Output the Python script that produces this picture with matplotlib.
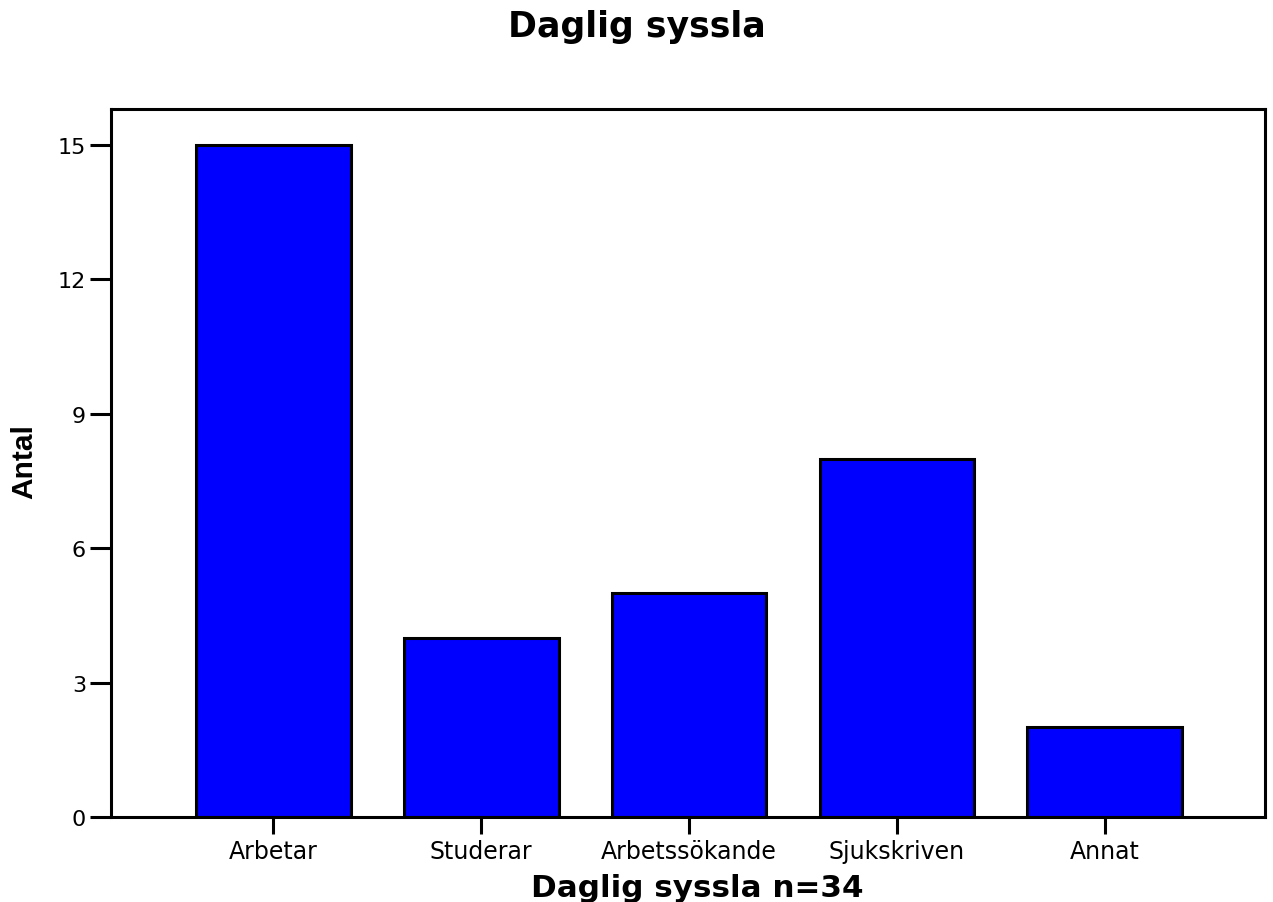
import matplotlib
matplotlib.use("Agg")
import matplotlib.pyplot as plt
from matplotlib import font_manager
import os

categories = ["Arbetar", "Studerar", "Arbetssökande", "Sjukskriven", "Annat"]
counts = [15, 4, 5, 8, 2]
yticks = [0, 3, 6, 9, 12, 15]


def findFont(fileName, fallbackFamily, weight='normal'):
    for f in font_manager.findSystemFonts():
        if os.path.basename(f) == fileName:
            return font_manager.FontProperties(fname=f)
    return font_manager.FontProperties(family=fallbackFamily, weight=weight)


libBold = findFont('LiberationSans-Bold.ttf', 'Liberation Sans', 'bold')

fig = plt.figure(figsize=(12.73, 9.03), dpi=100)
ax = fig.add_axes([111/1273, 85/903, (1265-111)/1273, (818-110)/903])

x = range(len(categories))
ax.bar(x, counts, width=0.745, color='#0000ff', edgecolor='black', linewidth=2.2)

ax.set_xlim(-0.78, len(categories) - 1 + 0.77)
ax.set_ylim(0, 15.8)
ax.set_yticks(yticks)
ax.set_xticks(list(x))
ax.set_xticklabels(categories)

for s in ax.spines.values():
    s.set_linewidth(2.2)
ax.tick_params(axis='y', length=15, width=2.2, pad=3, labelsize=16)
ax.tick_params(axis='x', length=12, width=2.2, pad=4, labelsize=17)
for lab in ax.get_xticklabels() + ax.get_yticklabels():
    lab.set_family('DejaVu Sans')

fig.text(0.5, 1 - 37/903, "Daglig syssla", ha='center', va='baseline',
         fontsize=25, fontweight='bold', family='DejaVu Sans')
fig.text(697/1273, 1 - 897/903, "Daglig syssla n=34", ha='center',
         va='baseline', fontsize=22.3, fontweight='bold', family='DejaVu Sans')
yl = fig.text(24/1273, 1 - 462/903, "Antal", rotation=90, ha='center', va='center',
              fontproperties=libBold)
yl.set_fontsize(21.5)

fig.savefig("out.png", dpi=100)
